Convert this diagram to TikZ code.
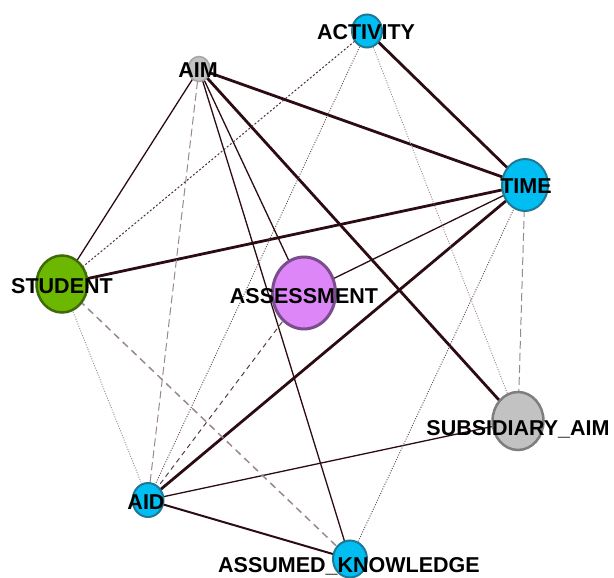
\documentclass[tikz,border=0pt]{standalone}
\usepackage{fontspec}
\setmainfont{Liberation Sans}
\usetikzlibrary{shapes.geometric}
\pgfdeclarelayer{edges}
\pgfsetlayers{edges,main}

\definecolor{cyanfill}{HTML}{00BEF2}
\definecolor{cyanline}{HTML}{1E7896}
\definecolor{greenfill}{HTML}{6CB800}
\definecolor{greenline}{HTML}{3E6A08}
\definecolor{purplefill}{HTML}{DC86F8}
\definecolor{purpleline}{HTML}{7A4E8C}
\definecolor{greyfill}{HTML}{C2C2C2}
\definecolor{greyline}{HTML}{7E7E7E}
\definecolor{edgedark}{HTML}{2C0C12}
\definecolor{edgelight}{HTML}{9A8890}

\tikzset{
  vertex/.style={ellipse, draw, line width=2pt, inner sep=0pt},
  cyanv/.style={vertex, fill=cyanfill, draw=cyanline},
  greenv/.style={vertex, fill=greenfill, draw=greenline, line width=2.5pt},
  purplev/.style={vertex, fill=purplefill, draw=purpleline, line width=3pt},
  greyv/.style={vertex, fill=greyfill, draw=greyline, line width=2.5pt},
  tag/.style={font=\bfseries\fontsize{21.5}{24}\selectfont, text=black, inner sep=0pt},
  heavy/.style={draw=edgedark, line width=2.8pt},
  medium/.style={draw=edgedark, line width=2pt},
  light/.style={draw=edgedark, line width=1.3pt},
  longdash/.style={draw=edgelight, line width=1pt, dash pattern=on 8pt off 4pt},
  middash/.style={draw=edgelight, line width=1.5pt, dash pattern=on 7pt off 5pt},
  shortdash/.style={draw=edgedark!80, line width=1pt, dash pattern=on 5pt off 4pt},
  finedash/.style={draw=edgedark!85, line width=1pt, dash pattern=on 2pt off 2pt},
  dotline/.style={draw=edgedark!75, line width=0.9pt, dash pattern=on 1pt off 1.5pt},
  dotlight/.style={draw=edgelight, line width=0.9pt, dash pattern=on 1pt off 1.5pt},
}

\begin{document}
\begin{tikzpicture}[x=1pt, y=-1pt]
  \useasboundingbox (0,0) rectangle (614,578);

  % vertices
  \node[cyanv, minimum width=30pt, minimum height=33pt] (activity) at (367,31) {};
  \node[greyv, draw=greyline!70, line width=1.5pt, minimum width=22pt, minimum height=25pt] (aim) at (199,69) {};
  \node[cyanv, minimum width=46pt, minimum height=52pt] (time) at (525,185) {};
  \node[greenv, minimum width=51pt, minimum height=57pt] (student) at (62,284) {};
  \node[purplev, minimum width=63pt, minimum height=72pt] (assess) at (304,293) {};
  \node[greyv, minimum width=51pt, minimum height=58pt] (subaim) at (518,421) {};
  \node[cyanv, minimum width=31pt, minimum height=34pt] (aid) at (148,500) {};
  \node[cyanv, minimum width=34pt, minimum height=37pt] (assumed) at (350,559) {};

  % connectors
  \begin{pgfonlayer}{edges}
    \draw[heavy]  (aim.center) -- (time.center);
    \draw[heavy]  (aim.center) -- (subaim.center);
    \draw[heavy]  (activity.center) -- (time.center);
    \draw[heavy]  (time.center) -- (student.center);
    \draw[heavy]  (time.center) -- (aid.center);
    \draw[medium] (aid.center) -- (assumed.center);
    \draw[light]  (aim.center) -- (student.center);
    \draw[light]  (aim.center) -- (assess.center);
    \draw[light]  (aim.center) -- (assumed.center);
    \draw[light]  (time.center) -- (assess.center);
    \draw[light]  (aid.center) -- (subaim.center);
    \draw[longdash]  (aim.center) -- (aid.center);
    \draw[longdash]  (time.center) -- (subaim.center);
    \draw[middash]   (student.center) -- (assumed.center);
    \draw[shortdash] (assess.center) -- (aid.center);
    \draw[finedash]  (activity.center) -- (student.center);
    \draw[dotline]   (activity.center) -- (aid.center);
    \draw[dotlight]  (activity.center) -- (subaim.center);
    \draw[dotline]   (time.center) -- (assumed.center);
    \draw[dotlight]  (student.center) -- (aid.center);
  \end{pgfonlayer}

  % vertex names
  \node[tag] (activitytag) at (366,32) {ACTIVITY};
  \node[tag] (aimtag) at (198,70) {AIM};
  \node[tag] (timetag) at (526,186) {TIME};
  \node[tag] (studenttag) at (62,286) {STUDENT};
  \node[tag] (assesstag) at (304,296) {ASSESSMENT};
  \node[tag] (subaimtag) at (518,429) {SUBSIDIARY\_AIM};
  \node[tag] (aidtag) at (146,502) {AID};
  \node[tag] (assumedtag) at (349,566) {ASSUMED\_KNOWLEDGE};
\end{tikzpicture}
\end{document}
